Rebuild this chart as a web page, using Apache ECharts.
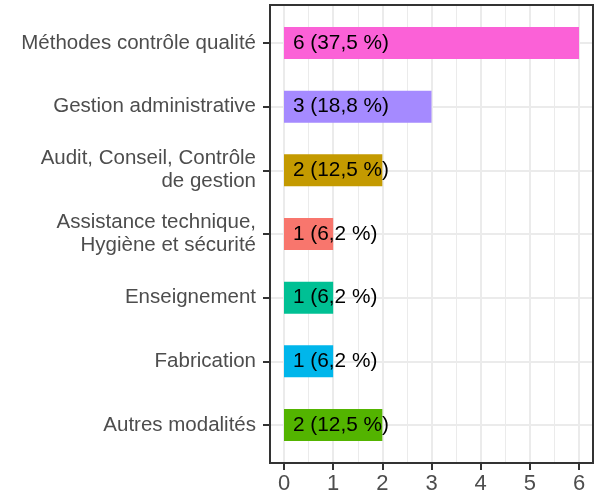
<!DOCTYPE html>
<html>
<head>
<meta charset="utf-8">
<script src="https://cdn.jsdelivr.net/npm/echarts@6/dist/echarts.min.js"></script>
<style>
  html, body { margin: 0; padding: 0; background: #fff; }
  #chart { width: 599px; height: 496px; }
</style>
</head>
<body>
<div id="chart"></div>
<script>
// données (de haut en bas)
var categories = [
    'Méthodes contrôle qualité',
    'Gestion administrative',
    'Audit, Conseil, Contrôle\nde gestion',
    'Assistance technique,\nHygiène et sécurité',
    'Enseignement',
    'Fabrication',
    'Autres modalités'
];
var effectifs = [6, 3, 2, 1, 1, 1, 2];
var pourcentages = ['37,5 %', '18,8 %', '12,5 %', '6,2 %', '6,2 %', '6,2 %', '12,5 %'];
var couleurs = ['#FB61D7', '#A58AFF', '#C49A00', '#F8766D', '#00C094', '#00B6EB', '#53B400'];
var xTicks = [0, 1, 2, 3, 4, 5, 6];

var police = "'Liberation Sans', Arial, sans-serif";

// panneau : 270 -> 593 ; 0 en 284, 6 en 579
var unite = (579 - 284) / 6;
var xMinPanel = -(284 - 270) / unite;
var xMaxPanel = 6 + (593 - 579) / unite;

var myChart = echarts.init(document.getElementById('chart'));

var option = {
    animation: false,
    textStyle: { fontFamily: police },
    grid: [
        // cadre du panneau
        { left: 270, right: 6, top: 5, bottom: 33, show: true, borderColor: '#333333', borderWidth: 2, z: 5 },
        // axe des x
        { left: 284, right: 20, top: 5, bottom: 33 },
        // barres + catégories
        { left: 270, right: 6, top: 43, bottom: 71 }
    ],
    xAxis: [
        { gridIndex: 0, type: 'value', show: false },
        {
            gridIndex: 1,
            type: 'value',
            min: xTicks[0],
            max: xTicks[xTicks.length - 1],
            interval: 1,
            axisLine: { show: false, onZero: false },
            axisTick: { show: true, length: 7, lineStyle: { color: '#333333', width: 2 } },
            axisLabel: { fontSize: 22, color: '#4d4d4d', margin: 10, fontFamily: police },
            splitLine: { show: true, lineStyle: { color: '#ebebeb', width: 2 } },
            minorTick: { show: false, splitNumber: 2 },
            minorSplitLine: { show: true, lineStyle: { color: '#ebebeb', width: 1 } }
        },
        { gridIndex: 2, type: 'value', min: xMinPanel, max: xMaxPanel, show: false }
    ],
    yAxis: [
        { gridIndex: 0, type: 'value', show: false },
        { gridIndex: 1, type: 'value', show: false },
        {
            gridIndex: 2,
            type: 'category',
            data: categories,
            inverse: true,
            boundaryGap: false,
            axisLine: { show: false, onZero: false },
            axisTick: { show: true, length: 7, lineStyle: { color: '#333333', width: 2 } },
            axisLabel: {
                fontSize: 20.5, color: '#4d4d4d', margin: 14, lineHeight: 23,
                align: 'right', fontFamily: police
            },
            splitLine: { show: true, lineStyle: { color: '#ebebeb', width: 2 } }
        }
    ],
    series: [{
        type: 'bar',
        xAxisIndex: 2,
        yAxisIndex: 2,
        barWidth: 32,
        clip: false,
        data: effectifs.map(function (v, i) {
            return { value: v, itemStyle: { color: couleurs[i] } };
        }),
        label: {
            show: true,
            position: 'insideLeft',
            distance: 9,
            color: '#000',
            fontSize: 20.8,
            fontFamily: police,
            formatter: function (p) {
                return effectifs[p.dataIndex] + ' (' + pourcentages[p.dataIndex] + ')';
            }
        }
    }]
};

myChart.setOption(option);
</script>
</body>
</html>
